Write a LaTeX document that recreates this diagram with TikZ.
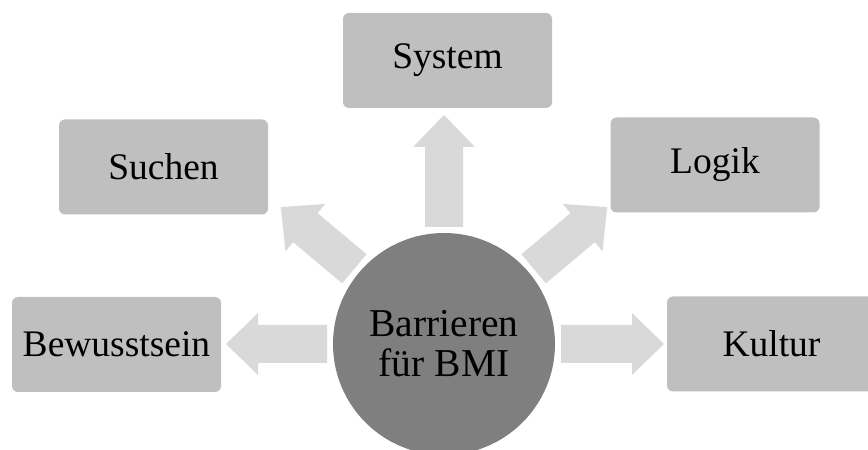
\documentclass[tikz,border=0pt]{standalone}
\usepackage{fontspec}
\setmainfont{Liberation Serif}
\definecolor{boxgray}{HTML}{BFBFBF}
\definecolor{arrowgray}{HTML}{D9D9D9}
\definecolor{hubgray}{HTML}{7F7F7F}
\tikzset{
  topic/.style={rectangle, rounded corners=6pt, fill=boxgray, minimum width=209pt,
    minimum height=95pt, inner sep=0pt, font=\fontsize{37.5}{43}\selectfont},
  hub/.style={circle, fill=hubgray, minimum size=222pt, inner sep=0pt, align=center,
    font=\fontsize{39.5}{40}\selectfont},
  blockarrow/.style={fill=arrowgray}
}
% block arrow from the hub: #1 = direction, #2 = tip distance
\newcommand{\hubarrow}[2]{%
  \fill[blockarrow, shift={(hub.center)}, rotate=#1]
    (117,-19) -- ({#2-32},-19) -- ({#2-32},-31) -- (#2,0) -- ({#2-32},31)
    -- ({#2-32},19) -- (117,19) -- cycle;}
\begin{document}
\begin{tikzpicture}[x=1pt,y=1pt]
  \useasboundingbox (0,0) rectangle (868,450);
  \coordinate (hub) at (444,106);
  \hubarrow{90}{229}
  \hubarrow{140}{213}
  \hubarrow{40}{213}
  \hubarrow{180}{218}
  \hubarrow{0}{220}
  \node[hub] (center) at (hub) {Barrieren\\für BMI};
  \node[topic] (system) at (447.5,389.5) {System};
  \node[topic] (suchen) at (163.5,283) {Suchen};
  \node[topic] (logik) at (715,285) {Logik};
  \node[topic] (bewusstsein) at (116.5,105.5) {Bewusstsein};
  \node[topic] (kultur) at (771.5,106) {Kultur};
\end{tikzpicture}
\end{document}
